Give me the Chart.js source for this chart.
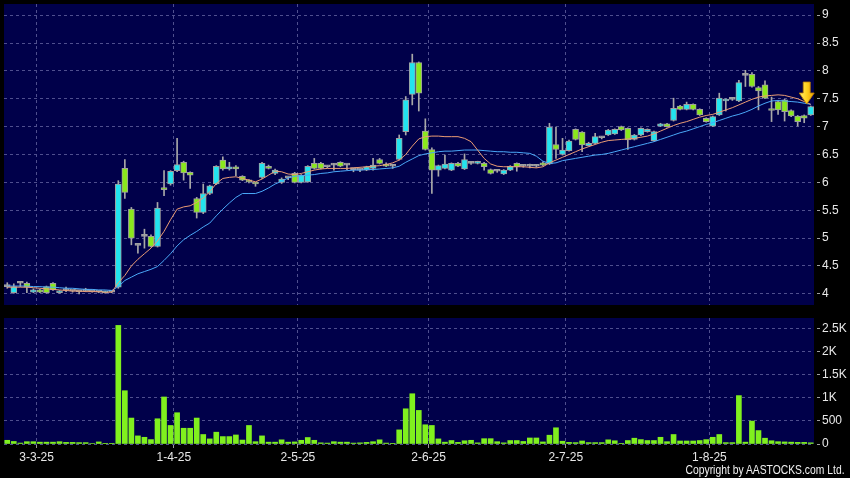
<!DOCTYPE html>
<html><head><meta charset="utf-8">
<script src="https://cdn.jsdelivr.net/npm/chart.js@4.4.1/dist/chart.umd.min.js"></script>
<style>
html,body{margin:0;padding:0;background:#000;width:850px;height:478px;overflow:hidden}
#wrap{position:relative;width:850px;height:478px;background:#000}
#c1{position:absolute;left:0;top:0}
#c2{position:absolute;left:0;top:310px}
#copy{position:absolute;right:5px;top:463px;color:#f0f0f0;font:12px "Liberation Sans Narrow","Arial Narrow","Liberation Sans",sans-serif;white-space:nowrap;transform-origin:right center}
</style></head>
<body><div id="wrap">
<canvas id="c1" width="850" height="310"></canvas>
<canvas id="c2" width="850" height="168"></canvas>
<div id="copy">Copyright by AASTOCKS.com Ltd.</div>
</div>
<script>
const categories = [
"24-2-25","25-2-25","26-2-25","27-2-25","28-2-25",
"3-3-25","4-3-25","5-3-25","6-3-25","7-3-25","10-3-25","11-3-25","12-3-25","13-3-25","14-3-25","17-3-25","18-3-25","19-3-25","20-3-25","21-3-25","24-3-25","25-3-25","26-3-25","27-3-25","28-3-25","31-3-25",
"1-4-25","2-4-25","3-4-25","7-4-25","8-4-25","9-4-25","10-4-25","11-4-25","14-4-25","15-4-25","16-4-25","17-4-25","22-4-25","23-4-25","24-4-25","25-4-25","28-4-25","29-4-25","30-4-25",
"2-5-25","6-5-25","7-5-25","8-5-25","9-5-25","12-5-25","13-5-25","14-5-25","15-5-25","16-5-25","19-5-25","20-5-25","21-5-25","22-5-25","23-5-25","26-5-25","27-5-25","28-5-25","29-5-25","30-5-25",
"2-6-25","3-6-25","4-6-25","5-6-25","6-6-25","9-6-25","10-6-25","11-6-25","12-6-25","13-6-25","16-6-25","17-6-25","18-6-25","19-6-25","20-6-25","23-6-25","24-6-25","25-6-25","26-6-25","27-6-25","30-6-25",
"2-7-25","3-7-25","4-7-25","7-7-25","8-7-25","9-7-25","10-7-25","11-7-25","14-7-25","15-7-25","16-7-25","17-7-25","18-7-25","21-7-25","22-7-25","23-7-25","24-7-25","25-7-25","28-7-25","29-7-25","30-7-25","31-7-25",
"1-8-25","4-8-25","5-8-25","6-8-25","7-8-25","8-8-25","11-8-25","12-8-25","13-8-25","14-8-25","15-8-25","18-8-25","19-8-25","20-8-25","21-8-25","22-8-25"];

const opens = [4.13,4.02,4.19,4.19,4.03,4.07,4.13,4.19,4.02,4.06,4.05,4.04,4.05,4.04,4.03,4.02,4.03,
4.12,6.25,5.52,4.87,5.03,5.03,4.85,5.89,5.97,6.21,6.36,6.18,5.71,5.46,5.80,5.97,6.40,6.24,6.28,6.11,6.03,5.98,6.09,6.29,6.16,6.00,6.08,6.16,
6.00,6.01,6.34,6.34,6.28,6.31,6.36,6.31,6.23,6.22,6.22,6.25,6.41,6.33,6.29,6.41,6.91,7.58,8.15,6.92,
6.59,6.22,6.25,6.22,6.34,6.24,6.34,6.34,6.34,6.23,6.20,6.15,6.22,6.34,6.29,6.29,6.29,6.35,6.33,6.68,6.50,
6.57,6.95,6.90,6.66,6.70,6.80,6.85,6.87,7.00,6.97,6.77,6.85,6.91,6.75,7.01,7.05,7.11,7.37,7.31,7.40,7.31,7.15,
7.01,7.21,7.46,7.49,7.46,7.92,7.94,7.70,7.75,7.30,7.45,7.48,7.29,7.19,7.20,7.21];
const highs = [4.20,4.18,4.21,4.21,4.09,4.08,4.14,4.20,4.06,4.12,4.06,4.05,4.10,4.05,4.05,4.05,4.04,
6.03,6.41,5.55,4.88,5.16,5.06,5.64,6.21,6.21,6.79,6.38,6.19,5.73,5.97,5.95,6.30,6.46,6.36,6.30,6.12,6.05,6.00,6.36,6.31,6.24,6.08,6.10,6.18,
6.14,6.30,6.43,6.36,6.30,6.34,6.37,6.33,6.25,6.24,6.29,6.43,6.43,6.35,6.31,6.85,7.54,8.30,8.16,7.14,
6.62,6.31,6.49,6.35,6.36,6.51,6.36,6.38,6.36,6.24,6.22,6.23,6.30,6.35,6.31,6.33,6.31,6.37,7.06,6.99,6.79,
6.76,6.96,6.91,6.72,6.88,6.82,6.95,6.96,7.01,6.98,6.86,6.98,6.96,6.92,7.06,7.06,7.51,7.38,7.44,7.41,7.32,7.16,
7.19,7.60,7.50,7.50,7.83,8.01,7.97,7.72,7.82,7.53,7.47,7.49,7.30,7.20,7.21,7.37];
const lows = [4.10,4.01,4.13,4.02,4.02,4.02,4.01,4.06,4.01,4.04,4.03,4.00,4.04,4.03,4.02,4.01,4.02,
4.10,5.71,4.88,4.73,4.82,4.84,4.84,5.76,5.95,6.19,6.04,5.89,5.36,5.44,5.78,5.96,6.22,6.22,6.12,6.03,5.99,5.93,6.07,6.24,6.14,5.98,6.05,5.99,
5.99,6.00,6.24,6.24,6.26,6.22,6.28,6.23,6.19,6.19,6.21,6.22,6.33,6.28,6.25,6.40,6.85,7.39,7.28,6.58,
5.80,6.11,6.24,6.21,6.28,6.23,6.32,6.33,6.22,6.15,6.18,6.14,6.21,6.20,6.27,6.26,6.27,6.30,6.32,6.43,6.49,
6.56,6.76,6.55,6.65,6.69,6.78,6.84,6.86,6.93,6.59,6.76,6.84,6.90,6.74,7.00,6.99,7.10,7.30,7.30,7.30,7.20,7.08,
7.00,7.20,7.28,7.47,7.45,7.72,7.71,7.30,7.50,7.09,7.22,7.10,7.18,7.01,7.07,7.20];
const closes = [4.13,4.13,4.19,4.12,4.07,4.03,4.02,4.07,4.04,4.06,4.05,4.04,4.05,4.04,4.03,4.04,4.03,
5.97,5.82,5.00,4.87,5.03,4.85,5.54,5.87,6.20,6.32,6.17,6.13,5.46,5.80,5.94,6.29,6.24,6.28,6.24,6.04,6.01,5.97,6.34,6.25,6.22,6.06,6.08,6.00,
6.13,6.29,6.25,6.25,6.28,6.31,6.29,6.31,6.23,6.22,6.28,6.31,6.34,6.29,6.29,6.79,7.48,8.15,7.60,6.59,
6.22,6.30,6.33,6.34,6.29,6.41,6.34,6.36,6.28,6.16,6.20,6.22,6.29,6.28,6.29,6.29,6.29,6.31,6.99,6.59,6.58,
6.74,6.77,6.67,6.70,6.82,6.80,6.94,6.95,6.94,6.76,6.85,6.97,6.95,6.91,7.05,7.00,7.33,7.31,7.40,7.31,7.21,7.09,
7.18,7.51,7.49,7.49,7.79,7.92,7.72,7.64,7.51,7.29,7.30,7.27,7.19,7.09,7.15,7.36];

const maShort = [4.12,4.12,4.12,4.12,4.11,4.10,4.09,4.08,4.07,4.06,4.05,4.05,4.04,4.04,4.04,4.03,4.03,
4.20,4.33,4.50,4.62,4.72,4.82,4.95,5.12,5.33,5.52,5.56,5.58,5.64,5.72,5.83,5.98,6.07,6.09,6.10,6.07,6.04,6.01,6.06,6.13,6.20,6.19,6.15,6.14,
6.16,6.19,6.22,6.24,6.25,6.25,6.25,6.25,6.26,6.27,6.28,6.29,6.30,6.32,6.35,6.40,6.50,6.65,6.78,6.82,
6.83,6.83,6.82,6.82,6.82,6.79,6.73,6.58,6.43,6.33,6.29,6.28,6.28,6.28,6.28,6.27,6.26,6.28,6.35,6.40,6.45,
6.50,6.55,6.60,6.64,6.68,6.72,6.75,6.76,6.77,6.78,6.79,6.81,6.83,6.87,6.92,6.97,7.02,7.06,7.09,7.13,7.17,7.20,
7.22,7.26,7.30,7.34,7.39,7.44,7.49,7.53,7.55,7.56,7.57,7.56,7.53,7.50,7.45,7.40];
const maLong = [4.14,4.14,4.14,4.14,4.13,4.13,4.12,4.12,4.11,4.10,4.10,4.09,4.08,4.08,4.07,4.07,4.06,
4.13,4.24,4.30,4.36,4.40,4.44,4.49,4.60,4.72,4.86,4.97,5.05,5.12,5.20,5.27,5.40,5.52,5.63,5.73,5.80,5.80,5.80,5.84,5.90,5.97,6.02,6.08,6.11,
6.12,6.13,6.14,6.16,6.17,6.19,6.20,6.21,6.22,6.22,6.23,6.23,6.24,6.25,6.26,6.29,6.36,6.42,6.48,6.51,
6.53,6.55,6.56,6.56,6.57,6.58,6.58,6.58,6.57,6.56,6.55,6.55,6.54,6.54,6.53,6.52,6.47,6.38,6.34,6.35,6.39,
6.41,6.43,6.45,6.47,6.49,6.50,6.52,6.55,6.58,6.61,6.64,6.67,6.70,6.73,6.77,6.81,6.85,6.89,6.92,6.96,7.00,7.04,
7.07,7.11,7.15,7.19,7.22,7.26,7.31,7.37,7.42,7.46,7.47,7.46,7.45,7.44,7.42,7.40];

const volumes = [80,55,20,50,50,40,40,40,50,35,35,30,30,10,45,15,5,
2560,1150,560,175,145,95,545,1015,400,675,340,340,560,205,110,255,160,160,195,85,400,50,175,40,40,90,40,45,
80,140,80,25,20,50,40,40,20,25,35,50,90,20,15,305,760,1085,725,415,
400,110,40,75,35,70,80,25,115,115,50,25,75,75,55,130,130,45,190,350,60,
35,30,65,30,30,30,90,70,15,75,125,95,75,75,145,50,205,65,65,65,75,95,
145,205,30,30,1045,40,495,290,125,70,50,45,40,35,35,25];

const priceTicks = [4,4.5,5,5.5,6,6.5,7,7.5,8,8.5,9];
const volumeTicks = [0,500,1000,1500,2000,2500];
const dateTickLabels = ["3-3-25","1-4-25","2-5-25","2-6-25","2-7-25","1-8-25"];

const NAVY = '#00004a';
const GRID = '#4f4f8e';
const UP = '#22e4ef';
const DOWN = '#8ae81c';
const FLAT = '#a8a8a8';
const EDGE = '#a0a0a0';
const TXT = '#e8e8e8';
const FONT = {family:'"Liberation Sans", Arial, sans-serif', size:12};

const bgPlugin = {
  id:'bg',
  beforeDraw(chart){
    const {ctx, chartArea:a} = chart;
    ctx.save(); ctx.fillStyle = NAVY;
    ctx.fillRect(a.left, a.top, a.right-a.left, a.bottom-a.top);
    ctx.restore();
  }
};

const labelIdx = new Set(dateTickLabels.map(l => categories.indexOf(l)));
const xGridColor = ctx => (ctx.type === 'tick' && labelIdx.has(ctx.index)) ? GRID : 'rgba(0,0,0,0)';
const xTickColor = ctx => (ctx.type === 'tick' && labelIdx.has(ctx.index)) ? '#9a9a9a' : 'rgba(0,0,0,0)';
const noPad = s => { s.paddingTop = 0; s.paddingBottom = 0; };

const arrowPlugin = {
  id:'arrow',
  afterDatasetsDraw(chart){
    const xs = chart.scales.x, ys = chart.scales.y;
    const last = categories.length - 1;
    const cx = xs.getPixelForValue(last) - 4;
    const tip = ys.getPixelForValue(highs[last]) - 2;
    const ctx = chart.ctx;
    ctx.save();
    const g = ctx.createLinearGradient(cx-8, 0, cx+8, 0);
    g.addColorStop(0, '#fff27a'); g.addColorStop(0.5, '#ffd21e'); g.addColorStop(1, '#e89a00');
    ctx.fillStyle = g;
    ctx.strokeStyle = '#c08000'; ctx.lineWidth = 0.8;
    ctx.beginPath();
    ctx.moveTo(cx-3.5, tip-22);
    ctx.lineTo(cx+3.5, tip-22);
    ctx.lineTo(cx+3.5, tip-11);
    ctx.lineTo(cx+7.5, tip-11);
    ctx.lineTo(cx, tip);
    ctx.lineTo(cx-7.5, tip-11);
    ctx.lineTo(cx-3.5, tip-11);
    ctx.closePath();
    ctx.fill(); ctx.stroke();
    ctx.restore();
  }
};

const bodyColor = c => {
  const i = c.dataIndex;
  if (closes[i] > opens[i]) return UP;
  if (closes[i] < opens[i]) return DOWN;
  return FLAT;
};

new Chart(document.getElementById('c1'), {
  type:'bar',
  data:{
    labels: categories,
    datasets:[
      {type:'line', data: maShort, borderColor:'#eb9c74', borderWidth:1, pointRadius:0, tension:0, order:1},
      {type:'line', data: maLong, borderColor:'#4aa8f8', borderWidth:1, pointRadius:0, tension:0, order:1},
      {data: opens.map((o,i)=>[Math.min(o,closes[i]), Math.max(o,closes[i])]),
       backgroundColor: bodyColor, borderColor: EDGE, borderWidth:1, borderSkipped:false,
       barThickness:6, minBarLength:2, grouped:false, order:2},
      {data: highs.map((h,i)=>[lows[i], h]), backgroundColor:'#a8a8a8', borderWidth:0,
       barThickness:1, grouped:false, order:3}
    ]
  },
  options:{
    responsive:false, animation:false, events:[],
    layout:{padding:{left:4, top:4, right:0, bottom:5}},
    plugins:{legend:{display:false}, tooltip:{enabled:false}},
    scales:{
      x:{type:'category', offset:true,
         grid:{offset:true, color:xGridColor, drawTicks:false, lineWidth:1},
         border:{display:false, dash:[3,3]},
         ticks:{display:false},
         afterFit(s){ s.height = 0; s.paddingLeft = 0; s.paddingRight = 0; }},
      y:{position:'right', min:3.8, max:9.2,
         afterBuildTicks(s){ s.ticks = priceTicks.map(v=>({value:v})); },
         afterFit(s){ s.width = 36; noPad(s); },
         grid:{color:GRID, tickColor:'#a0a0a0', tickLength:6, tickBorderDash:[0,3,3]},
         border:{display:false, dash:[3,3]},
         ticks:{color:TXT, font:FONT, padding:2, callback:v=>String(v)}}
    }
  },
  plugins:[bgPlugin, arrowPlugin]
});

new Chart(document.getElementById('c2'), {
  type:'bar',
  data:{
    labels: categories,
    datasets:[{data: volumes, backgroundColor:'#80f01e', borderWidth:0, barThickness:5}]
  },
  options:{
    responsive:false, animation:false, events:[],
    layout:{padding:{left:4, top:8, right:0, bottom:0}},
    plugins:{legend:{display:false}, tooltip:{enabled:false}},
    scales:{
      x:{type:'category', offset:true,
         grid:{offset:true, color:xGridColor, tickColor:xTickColor, tickLength:4},
         border:{display:false, dash:[3,3]},
         ticks:{autoSkip:false, maxRotation:0, minRotation:0, color:TXT, font:FONT, padding:2, labelOffset:-3.3,
                callback:(v,i)=> labelIdx.has(i) ? categories[i] : ''},
         afterFit(s){ s.height = 34; s.paddingLeft = 0; s.paddingRight = 0; }},
      y:{position:'right', min:0, max:2720,
         afterBuildTicks(s){ s.ticks = volumeTicks.map(v=>({value:v})); },
         afterFit(s){ s.width = 36; noPad(s); },
         grid:{color:GRID, tickColor:'#a0a0a0', tickLength:6, tickBorderDash:[0,3,3]},
         border:{display:false, dash:[3,3]},
         ticks:{color:TXT, font:FONT, padding:2, callback:v=> v>=1000 ? (v/1000)+'K' : String(v)}}
    }
  },
  plugins:[bgPlugin]
});

(function(){
  const el = document.getElementById('copy');
  const w = el.getBoundingClientRect().width;
  if (w > 0) el.style.transform = 'scaleX(' + (159 / w) + ')';
})();
</script>
</body></html>
